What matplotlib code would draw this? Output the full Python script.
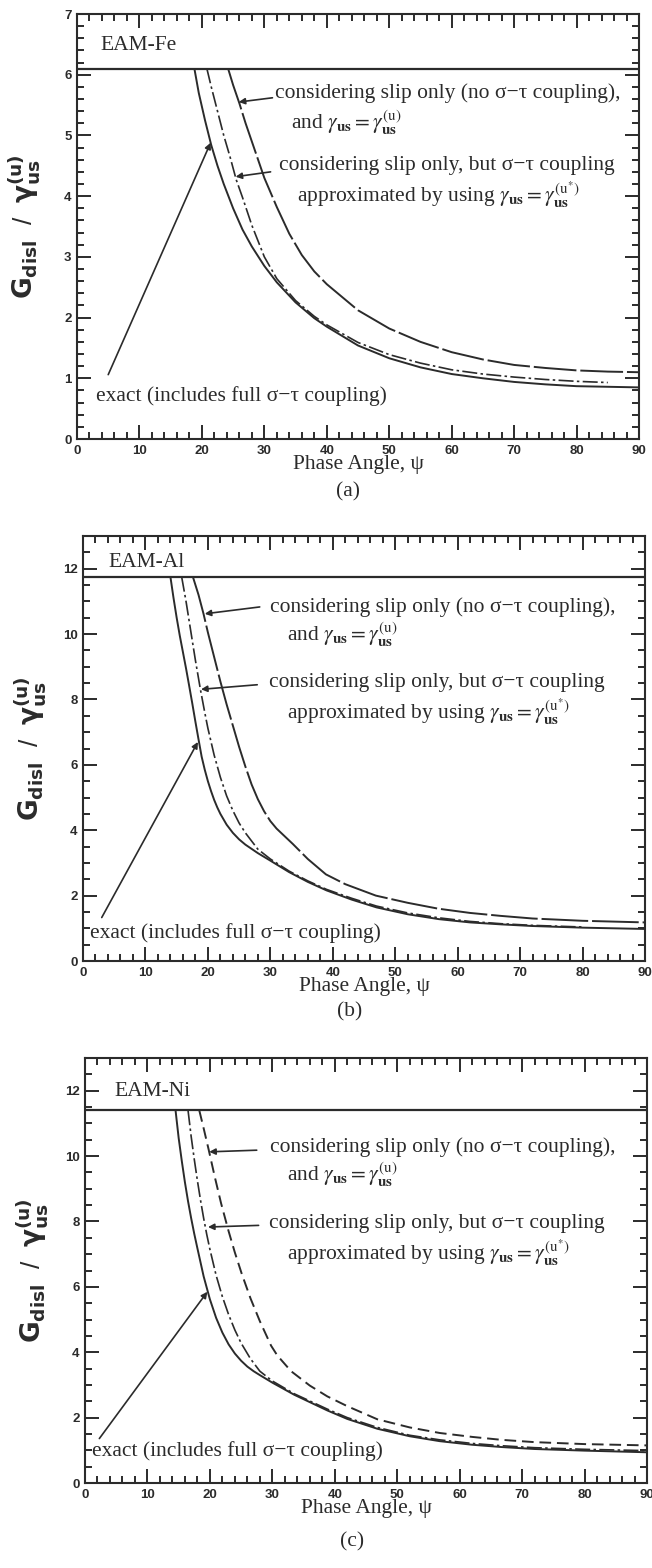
import matplotlib
matplotlib.use("Agg")
import matplotlib.pyplot as plt
from matplotlib.ticker import MultipleLocator

# --- data (phase angle psi in degrees, G_disl / gamma_us^(u)) ---
# (a) EAM-Fe
fe_cap = 6.1
fe_exact_psi = [18.8, 19.5, 20.5, 21.5, 22.5, 23.5, 25, 26.5, 28, 30, 32, 35, 38, 40, 45, 50, 55, 60, 65, 70, 75, 80, 85, 90]
fe_exact = [6.1, 5.7, 5.25, 4.84, 4.5, 4.2, 3.8, 3.45, 3.17, 2.85, 2.58, 2.25, 1.99, 1.85, 1.54, 1.33, 1.18, 1.07, 1.0, 0.94, 0.9, 0.87, 0.86, 0.85]
fe_approx_psi = [20.8, 21.5, 22.5, 23.5, 24.5, 25.5, 26.5, 28, 30, 32, 35, 38, 40, 45, 50, 55, 60, 65, 70, 75, 80, 85]
fe_approx = [6.1, 5.8, 5.4, 5.0, 4.65, 4.27, 3.98, 3.52, 3.0, 2.64, 2.28, 2.02, 1.88, 1.59, 1.39, 1.25, 1.14, 1.07, 1.02, 0.98, 0.95, 0.93]
fe_slip_psi = [24.2, 25, 26, 27, 28, 29, 30, 32, 34, 36, 38, 40, 45, 50, 55, 60, 65, 70, 75, 80, 85, 90]
fe_slip = [6.1, 5.83, 5.53, 5.2, 4.9, 4.6, 4.3, 3.82, 3.38, 3.03, 2.76, 2.55, 2.12, 1.82, 1.6, 1.43, 1.31, 1.22, 1.17, 1.13, 1.11, 1.1]

# (b) EAM-Al
al_cap = 11.75
al_exact_psi = [14.0, 14.5, 15, 15.5, 16, 16.5, 17, 17.5, 18, 18.5, 19, 19.5, 20, 20.5, 21, 21.5, 22, 23, 24, 25, 26, 28, 30, 33, 36, 39, 43, 47, 52, 57, 62, 67, 72, 80, 90]
al_exact = [11.75, 11.1, 10.5, 9.95, 9.45, 8.95, 8.42, 7.88, 7.32, 6.78, 6.25, 5.85, 5.5, 5.2, 4.93, 4.7, 4.5, 4.17, 3.92, 3.72, 3.56, 3.3, 3.07, 2.72, 2.42, 2.16, 1.88, 1.64, 1.43, 1.28, 1.18, 1.12, 1.07, 1.02, 0.98]
al_approx_psi = [15.8, 16.5, 17, 17.5, 18, 18.8, 19.5, 20, 21, 22, 23, 24, 25, 26, 28, 30, 33, 36, 39, 43, 47, 52, 57, 62, 67, 72, 80]
al_approx = [11.75, 11.0, 10.4, 9.8, 9.2, 8.31, 7.6, 7.12, 6.3, 5.62, 5.05, 4.6, 4.22, 3.92, 3.42, 3.12, 2.75, 2.45, 2.19, 1.92, 1.68, 1.47, 1.32, 1.21, 1.14, 1.09, 1.04]
al_slip_psi = [17.6, 18.5, 19.3, 20, 21, 22, 23, 24, 25, 26, 27, 28, 29, 30, 31, 33.6, 36, 38.9, 42, 46.9, 52, 56.9, 62, 66.9, 72, 80, 90]
al_slip = [11.75, 11.2, 10.62, 10.05, 9.3, 8.55, 7.85, 7.2, 6.55, 5.95, 5.4, 4.95, 4.58, 4.28, 4.05, 3.58, 3.12, 2.65, 2.35, 2.0, 1.78, 1.6, 1.47, 1.38, 1.3, 1.23, 1.18]

# (c) EAM-Ni
ni_cap = 11.4
ni_exact_psi = [14.5, 15, 15.5, 16, 16.5, 17, 17.5, 18, 19, 20, 21, 22, 23, 24, 25, 26, 27, 28, 30, 33.5, 38.8, 42, 46.8, 52, 56.8, 62, 66.7, 72, 80, 90]
ni_exact = [11.4, 10.55, 9.85, 9.2, 8.62, 8.1, 7.62, 7.18, 6.32, 5.62, 5.05, 4.6, 4.24, 3.96, 3.74, 3.56, 3.42, 3.3, 3.07, 2.7, 2.22, 1.96, 1.66, 1.43, 1.28, 1.17, 1.1, 1.04, 0.99, 0.94]
ni_approx_psi = [16.5, 17, 17.5, 18, 18.5, 19, 19.5, 20, 21, 22, 23, 24, 25, 26.5, 28, 30, 33.5, 38.8, 42, 46.8, 52, 56.8, 62, 66.7, 72, 80, 90]
ni_approx = [11.4, 10.6, 9.9, 9.25, 8.65, 8.1, 7.6, 7.15, 6.35, 5.7, 5.15, 4.68, 4.28, 3.8, 3.42, 3.12, 2.73, 2.26, 2.0, 1.7, 1.46, 1.32, 1.21, 1.14, 1.08, 1.03, 0.99]
ni_slip_psi = [18.3, 19, 19.8, 20.8, 21.8, 23, 24, 25.1, 26.5, 28, 29.8, 30.8, 33, 36, 38.8, 42, 46.8, 52, 56.8, 62, 66.7, 72, 80, 90]
ni_slip = [11.4, 10.85, 10.2, 9.35, 8.55, 7.7, 7.05, 6.4, 5.65, 4.95, 4.2, 3.9, 3.42, 2.98, 2.65, 2.35, 1.95, 1.7, 1.53, 1.41, 1.32, 1.25, 1.19, 1.15]

panel_names = ["EAM-Fe", "EAM-Al", "EAM-Ni"]
panel_tags = ["(a)", "(b)", "(c)"]

SERIF = "Liberation Serif"
SANS = "Liberation Sans"
INK = "#2b2b2b"

plt.rcParams["font.family"] = [SANS, "DejaVu Sans"]
plt.rcParams["axes.linewidth"] = 1.5
plt.rcParams["xtick.direction"] = "in"
plt.rcParams["ytick.direction"] = "in"

fig = plt.figure(figsize=(6.52, 15.68), dpi=100)

W = 562 / 652
H = 425 / 1568
axs = [
    fig.add_axes([77 / 652, 1 - 439 / 1568, W, H]),
    fig.add_axes([83 / 652, 1 - 961 / 1568, W, H]),
    fig.add_axes([85 / 652, 1 - 1483 / 1568, W, H]),
]

curves = [
    (fe_cap, fe_exact_psi, fe_exact, fe_approx_psi, fe_approx, fe_slip_psi, fe_slip),
    (al_cap, al_exact_psi, al_exact, al_approx_psi, al_approx, al_slip_psi, al_slip),
    (ni_cap, ni_exact_psi, ni_exact, ni_approx_psi, ni_approx, ni_slip_psi, ni_slip),
]

slip_styles = [(0, (22, 2)), (0, (24, 2)), (0, (6, 3))]

# text / arrow positions in data coords for each panel
lab = [
    dict(name=(3.7, 6.48), l1=(31.7, 5.70), l2=(34.3, 5.21), l3=(32.3, 4.50), l4=(35.2, 4.03),
         a1=((31.3, 5.62), (25.9, 5.55)), a2=((31.0, 4.40), (25.4, 4.32)),
         a3=((5.0, 1.06), (21.4, 4.88)), ex=(3.0, 0.70)),
    dict(name=(4.0, 12.18), l1=(29.9, 10.83), l2=(32.6, 9.98), l3=(29.8, 8.53), l4=(32.6, 7.63),
         a1=((28.3, 10.83), (19.5, 10.62)), a2=((27.9, 8.45), (18.9, 8.31)),
         a3=((3.0, 1.33), (18.4, 6.7)), ex=(1.1, 0.87)),
    dict(name=(4.7, 11.98), l1=(29.7, 10.26), l2=(32.3, 9.42), l3=(29.5, 7.93), l4=(32.3, 7.06),
         a1=((27.5, 10.18), (19.9, 10.13)), a2=((27.8, 7.88), (19.7, 7.83)),
         a3=((2.3, 1.36), (19.6, 5.85)), ex=(1.2, 0.98)),
]

ylims = [7, 13, 13]
ymaj = [1, 2, 2]
ymin = [0.2, 0.5, 0.5]

FS = 15.5

for i, ax in enumerate(axs):
    cap, ex_x, ex_y, ap_x, ap_y, sl_x, sl_y = curves[i]
    ax.axhline(cap, color=INK, lw=1.6)
    ax.plot(ex_x, ex_y, color=INK, lw=1.4, solid_capstyle="butt")
    ax.plot(ap_x, ap_y, color=INK, lw=1.2, linestyle=(0, (9, 2, 1.5, 2)))
    ax.plot(sl_x, sl_y, color=INK, lw=1.4, linestyle=slip_styles[i])

    ax.set_xlim(0, 90)
    ax.set_ylim(0, ylims[i])
    ax.xaxis.set_major_locator(MultipleLocator(10))
    ax.xaxis.set_minor_locator(MultipleLocator(2))
    ax.yaxis.set_major_locator(MultipleLocator(ymaj[i]))
    ax.yaxis.set_minor_locator(MultipleLocator(ymin[i]))
    ax.tick_params(which="both", top=True, right=True, color=INK, width=1.4)
    ax.tick_params(which="major", length=10, pad=4)
    ax.tick_params(which="minor", length=5)
    for t in ax.get_xticklabels() + ax.get_yticklabels():
        t.set_fontweight("bold")
        t.set_fontsize(9.5)
        t.set_color(INK)
    for s in ax.spines.values():
        s.set_color(INK)

    ax.set_xlabel("Phase Angle, ψ", family=SERIF, fontsize=FS, color=INK, labelpad=-1)
    ax.set_ylabel(r"$\mathbf{G_{disl}}$  /  $\mathbf{\gamma^{(u)}_{us}}$", fontsize=19, color=INK)
    ax.yaxis.set_label_coords(-0.062, 0.5)

    L = lab[i]
    ax.text(*L["name"], panel_names[i], family=SERIF, fontsize=FS, color=INK, va="center")
    ax.text(*L["l1"], "considering slip only (no σ−τ coupling),", family=SERIF, fontsize=FS,
            color=INK, va="center")
    ax.text(*L["l2"], r"and $\gamma_{\mathbf{us}}=\gamma^{(\mathrm{u})}_{\mathbf{us}}$", family=SERIF,
            fontsize=FS, color=INK, va="center", math_fontfamily="stix")
    ax.text(*L["l3"], "considering slip only, but σ−τ coupling", family=SERIF, fontsize=FS,
            color=INK, va="center")
    ax.text(*L["l4"], r"approximated by using $\gamma_{\mathbf{us}}=\gamma^{(\mathrm{u}^{*})}_{\mathbf{us}}$",
            family=SERIF, fontsize=FS, color=INK, va="center", math_fontfamily="stix")
    ax.text(*L["ex"], "exact (includes full σ−τ coupling)", family=SERIF, fontsize=FS,
            color=INK, va="center")
    for key in ("a1", "a2", "a3"):
        start, tip = L[key]
        ax.annotate("", xy=tip, xytext=start,
                    arrowprops=dict(arrowstyle="-|>", color=INK, lw=1.2,
                                    mutation_scale=9, shrinkA=0, shrinkB=0))

fig.text(348 / 652, 1 - 492 / 1568, "(a)", family=SERIF, fontsize=FS, ha="center", va="center", color=INK)
fig.text(350 / 652, 1 - 1012 / 1568, "(b)", family=SERIF, fontsize=FS, ha="center", va="center", color=INK)
fig.text(352 / 652, 1 - 1542 / 1568, "(c)", family=SERIF, fontsize=FS, ha="center", va="center", color=INK)

fig.savefig("out.png", dpi=100)
